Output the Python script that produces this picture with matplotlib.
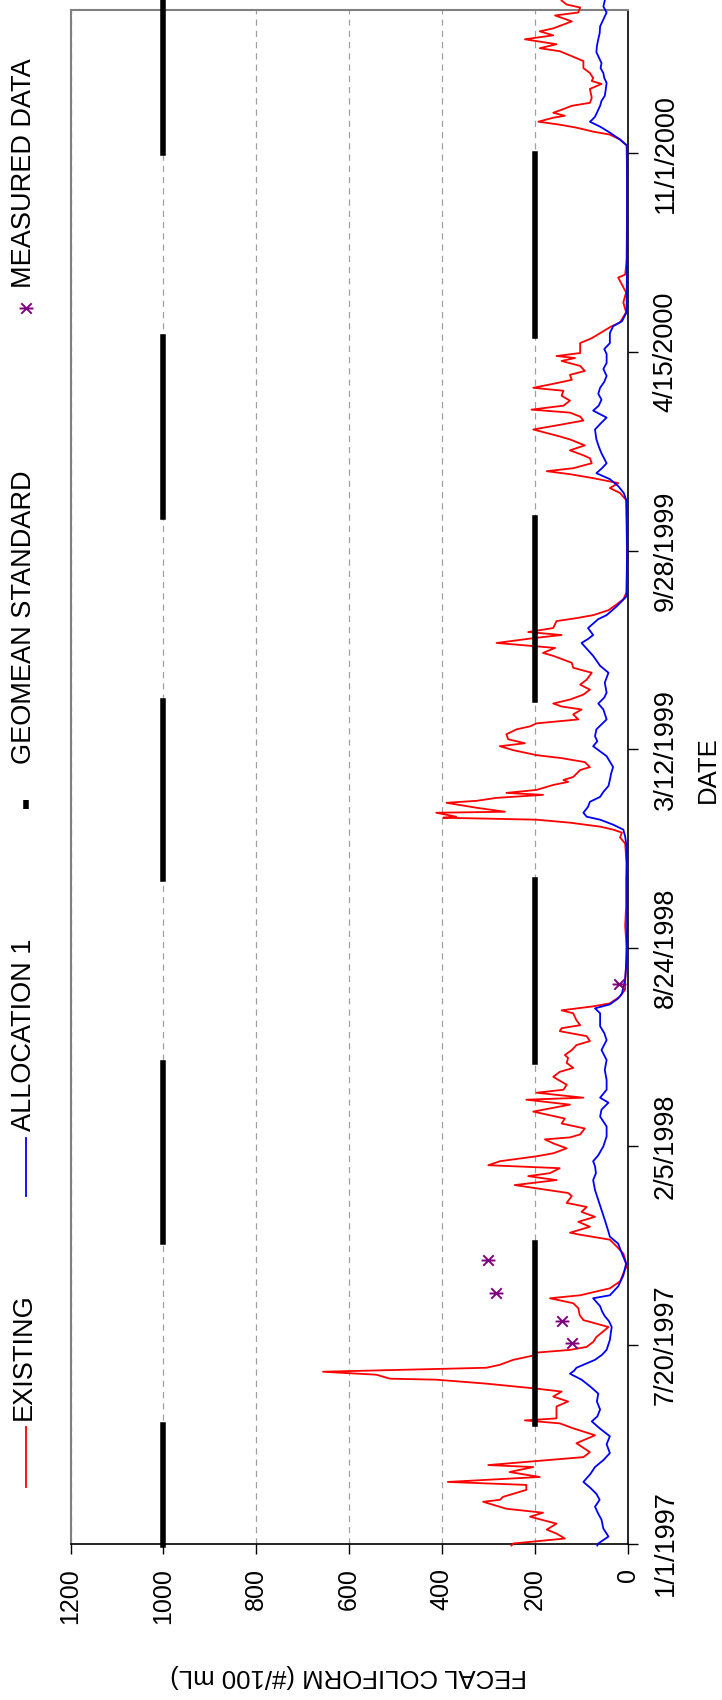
import numpy as np
import matplotlib
matplotlib.use("Agg")
import matplotlib.pyplot as plt
import matplotlib.dates as mdates
from matplotlib.lines import Line2D
from matplotlib.path import Path
from matplotlib.ticker import FuncFormatter

plt.rcParams["font.family"] = ["Liberation Sans", "DejaVu Sans"]

START = np.datetime64("1997-01-01")

# fecal coliform, existing conditions (day offset from 1/1/1997, #/100 mL)
existing_day = [-2, 0, 5, 10, 14, 20, 27, 31, 35, 42, 44, 47, 54, 59, 62, 67, 72, 77, 79, 87, 92, 101, 109, 116,
                121, 124, 126, 138, 143, 148, 153, 156, 161, 165, 166, 170, 173, 175, 177, 180, 185, 190, 192, 195,
                198, 203, 208, 218, 220, 225, 230, 237, 242,
                247, 250, 257, 264, 272, 279, 286, 292, 299, 306, 311, 313, 319, 324, 329, 334, 339, 343, 350, 353,
                361, 366, 370, 373, 378, 381, 385, 390, 393, 398, 403, 407, 409, 412, 418, 423, 428, 435, 442, 447,
                449, 454, 457, 462, 470, 475, 479, 484, 489, 492, 497, 502, 506,
                511, 516, 519, 522, 527, 534, 537, 541, 544, 551, 558, 568, 581, 601, 622, 642, 669, 685, 705, 711,
                716, 719, 722, 726, 729, 731, 732, 736, 737, 741, 746, 748, 751, 754, 756, 759, 764, 767,
                769, 772, 779, 782, 787, 791, 794, 799, 803, 806, 810, 815, 820, 823, 826, 830, 835, 840, 843, 846,
                850, 855, 860, 865, 870, 877, 882, 887, 894, 897, 902, 907, 912, 915, 918, 922, 929, 932, 935, 940,
                946, 951, 958, 990, 1031,
                1051, 1058, 1063, 1068, 1073, 1077, 1080, 1083, 1088, 1093, 1096, 1101, 1106, 1112, 1115, 1122,
                1127, 1131, 1135, 1139, 1142, 1146, 1151, 1156, 1161, 1164, 1168, 1172, 1177, 1181, 1186, 1191,
                1194, 1196, 1199, 1209, 1214, 1219, 1225, 1230, 1240, 1250, 1260, 1275, 1278, 1287,
                1293, 1340, 1380, 1408, 1414, 1419, 1422, 1426, 1429, 1432, 1436, 1438, 1441, 1444, 1448, 1451,
                1456, 1465, 1470, 1473, 1476, 1481, 1486, 1493, 1498, 1503, 1506, 1510, 1515, 1519, 1523, 1526,
                1533, 1539, 1542, 1547, 1550, 1554]
existing_fc = [250, 246, 135, 153, 174, 153, 210, 182, 261, 311, 275, 268, 218, 218, 387, 189, 254, 203, 300, 95, 81,
               110, 70, 117, 146, 221, 153, 153, 128, 160, 142, 196, 304, 412, 512, 541, 656, 477, 304, 275, 246,
               196, 203, 124, 88, 74, 67, 41, 56, 95, 103, 106, 117,
               167, 102, 38, 16, 9, 2, 5, 9, 23, 38, 102, 124, 81, 106, 70, 99, 88, 131, 120, 128, 243, 153, 214,
               167, 146, 300, 275, 196, 160, 131, 160, 178, 124, 102, 92, 142, 135, 203, 124, 218, 95, 196, 138,
               131, 160, 146, 117, 131, 128, 135, 120, 110, 81,
               88, 146, 142, 102, 110, 117, 142, 74, 38, 16, 5, 5, 3, 2, 5, 3, 3, 2, 5, 16, 12, 31, 59, 124, 196,
               397, 369, 412, 264, 325, 390, 325, 282, 182, 261, 196, 160, 128,
               138, 117, 102, 81, 92, 142, 196, 246, 275, 221, 257, 261, 239, 210, 196, 106, 117, 99, 142, 160,
               124, 95, 81, 102, 88, 77, 117, 120, 160, 182, 156, 282, 200, 142, 214, 160, 153, 110, 74, 41, 23, 9,
               2, 1, 2,
               3, 16, 38, 20, 74, 124, 174, 117, 77, 81, 95, 124, 92, 124, 146, 203, 142, 95, 102, 124, 207, 138,
               124, 142, 138, 203, 160, 120, 124, 92, 102, 142, 113, 153, 102, 102, 77, 59, 38, 16, 3, 9, 3, 20, 5,
               3,
               2, 1, 1, 2, 16, 38, 74, 110, 146, 192, 160, 135, 160, 142, 120, 81, 77, 81, 56, 77, 74, 81, 95, 95,
               120, 146, 189, 153, 221, 160, 189, 160, 120, 156, 106, 102, 131, 142]

# fecal coliform under allocation 1
alloc_day = [-2, 0, 7, 15, 24, 30, 37, 44, 50, 56, 62, 70, 77, 84, 91, 100, 108, 116, 123, 128, 135, 143, 151, 158,
             165, 171, 174, 177, 181, 185, 190, 195, 205, 212, 218, 224, 229, 234, 239,
             247, 250, 259, 270, 282, 292, 302, 309, 314, 320, 326, 336, 346, 356, 366, 373, 380, 385, 391, 400,
             410, 420, 430, 437, 444, 449, 457, 467, 477, 487, 497, 507,
             514, 521, 534, 539, 543, 549, 554, 568, 590, 620, 660, 702, 712, 719, 724, 729, 732, 736, 742, 747,
             752, 757, 763,
             769, 776, 782, 793, 803, 808, 813, 820, 830, 840, 846, 852, 857, 867, 877, 884, 894, 907, 911, 915,
             922, 931, 935, 944, 954, 1000, 1050,
             1058, 1065, 1072, 1078, 1083, 1088, 1098, 1105, 1112, 1122, 1128, 1134, 1141, 1146, 1152, 1158, 1164,
             1170, 1176, 1183, 1189, 1198, 1203, 1209, 1219, 1226, 1231, 1240, 1300, 1360, 1408,
             1414, 1421, 1427, 1432, 1434, 1437, 1442, 1448, 1453, 1458, 1464, 1471, 1476, 1481, 1486, 1491,
             1497, 1502, 1508, 1515, 1521, 1528, 1535, 1542, 1548, 1554]
alloc_fc = [65, 63, 41, 52, 56, 63, 70, 60, 67, 80, 95, 80, 70, 52, 38, 45, 38, 60, 77, 65, 59, 66, 63, 80, 99, 124,
            115, 110, 90, 70, 55, 45, 38, 36, 34, 40, 49, 55, 59,
            74, 38, 20, 9, 3, 12, 20, 38, 41, 45, 49, 56, 63, 70, 74, 68, 70, 74, 63, 52, 45, 45, 59, 56, 41, 59,
            45, 45, 49, 45, 56, 45,
            50, 59, 59, 70, 38, 20, 12, 5, 2, 1, 1, 2, 5, 9, 31, 59, 88, 95, 85, 81, 59, 52, 41,
            38, 35, 31, 45, 74, 65, 70, 67, 45, 52, 63, 50, 45, 49, 41, 59, 74, 99, 85, 74, 85, 63, 45, 23, 2, 1, 2,
            8, 20, 38, 67, 55, 45, 56, 62, 67, 70, 58, 45, 74, 62, 56, 63, 59, 50, 45, 52, 45, 45, 50, 38, 38, 31,
            12, 2, 1, 1, 1,
            16, 38, 59, 81, 76, 70, 65, 59, 56, 49, 47, 45, 50, 52, 58, 56, 62, 67, 66, 63, 60, 59, 52, 45, 52, 49]

# geometric mean standard by season
geo_start = ["1996-12-30", "1997-05-01", "1997-11-01", "1998-05-01", "1998-11-01",
             "1999-05-01", "1999-11-01", "2000-05-01", "2000-11-01"]
geo_end = ["1997-04-30", "1997-10-31", "1998-04-30", "1998-10-31", "1999-04-30",
           "1999-10-31", "2000-04-30", "2000-10-31", "2001-04-03"]
geo_value = [1000, 200, 1000, 200, 1000, 200, 1000, 200, 1000]

# measured samples
measured_date = ["1997-07-22", "1997-08-13", "1997-09-10", "1997-10-14", "1998-07-19"]
measured_fc = [119, 142, 284, 300, 18]


def to_dates(days):
    return START + np.asarray(days).astype("timedelta64[D]")


def date_label(v, pos):
    d = mdates.num2date(v)
    return f"{d.month}/{d.day}/{d.year}"


# asterisk marker: X with a bar through it
star = Path([(-1, 0), (1, 0), (-0.75, -0.75), (0.75, 0.75), (-0.75, 0.75), (0.75, -0.75)],
            [Path.MOVETO, Path.LINETO] * 3)

W, H = 722, 1700
fig = plt.figure(figsize=(W / 100, H / 100), dpi=100)
ax = fig.add_axes([70.5 / W, 1 - 1543.5 / H, 557 / W, 1534 / H])

ax.plot(existing_fc, to_dates(existing_day), color="#ff0000", lw=1.3, zorder=3, clip_on=False)
ax.plot(alloc_fc, to_dates(alloc_day), color="#0000ff", lw=1.3, zorder=4, clip_on=False)
for s, e, v in zip(geo_start, geo_end, geo_value):
    ax.plot([v, v], [np.datetime64(s), np.datetime64(e)], color="black", lw=4,
            solid_capstyle="projecting", zorder=5, clip_on=False)
ax.plot(measured_fc, np.array(measured_date, dtype="datetime64[D]"), ls="none", marker=star,
        ms=10, mew=1.4, mec="#800080", mfc="none", zorder=6)

ax.set_xlim(1200, 0)
ax.set_ylim(mdates.date2num(START), mdates.date2num(START + np.timedelta64(1545, "D")))
ax.set_xticks(range(0, 1201, 200))
ax.set_yticks(mdates.date2num(START + np.arange(0, 1401, 200).astype("timedelta64[D]")))
ax.yaxis.set_major_formatter(FuncFormatter(date_label))

ax.grid(axis="x", color="#a0a0a0", linestyle=(0, (5, 4)), linewidth=0.9)
ax.set_axisbelow(True)

ax.yaxis.tick_right()
ax.tick_params(axis="x", labelsize=18, labelrotation=90, length=7, width=1, pad=11)
ax.tick_params(axis="y", labelsize=19.5, labelrotation=90, length=7, width=1, pad=11)
for lbl in ax.get_yticklabels():
    lbl.set_va("center")

for side in ("left", "top"):
    ax.spines[side].set_color("#808080")
    ax.spines[side].set_linewidth(1.5)
for side in ("right", "bottom"):
    ax.spines[side].set_color("black")
    ax.spines[side].set_linewidth(1.2)

ax.set_xlabel("FECAL COLIFORM (#/100 mL)", fontsize=18.5, rotation=180, va="center", ha="center")
ax.xaxis.set_label_coords(0.5, (1543.5 - 1676) / 1534)
ax.yaxis.set_label_position("right")
ax.set_ylabel("DATE", fontsize=18.5, rotation=90, va="center", ha="center")
ax.yaxis.set_label_coords((708 - 70.5) / 557, (1543.5 - 770) / 1534)


# legend down the left edge, reading bottom to top
def fx(x):
    return x / W


def fy(y):
    return 1 - y / H


legend_fs = 19.5
fig.add_artist(Line2D([fx(26), fx(26)], [fy(1487), fy(1427)], color="#ff0000", lw=1.3))
fig.text(fx(24), fy(1420), "EXISTING", rotation=90, ha="center", va="bottom", fontsize=legend_fs)
fig.add_artist(Line2D([fx(26), fx(26)], [fy(1196), fy(1138)], color="#0000ff", lw=1.3))
fig.text(fx(24), fy(1131), "ALLOCATION 1", rotation=90, ha="center", va="bottom", fontsize=legend_fs)
fig.add_artist(Line2D([fx(26), fx(26)], [fy(809), fy(800)], color="black", lw=4, solid_capstyle="butt"))
fig.text(fx(24), fy(764), "GEOMEAN STANDARD", rotation=90, ha="center", va="bottom", fontsize=legend_fs)
fig.add_artist(Line2D([fx(26)], [fy(308)], ls="none", marker=star, ms=10, mew=1.4,
                      mec="#800080", mfc="none"))
fig.text(fx(24), fy(288), "MEASURED DATA", rotation=90, ha="center", va="bottom", fontsize=legend_fs)

fig.savefig("out.png", dpi=100)
